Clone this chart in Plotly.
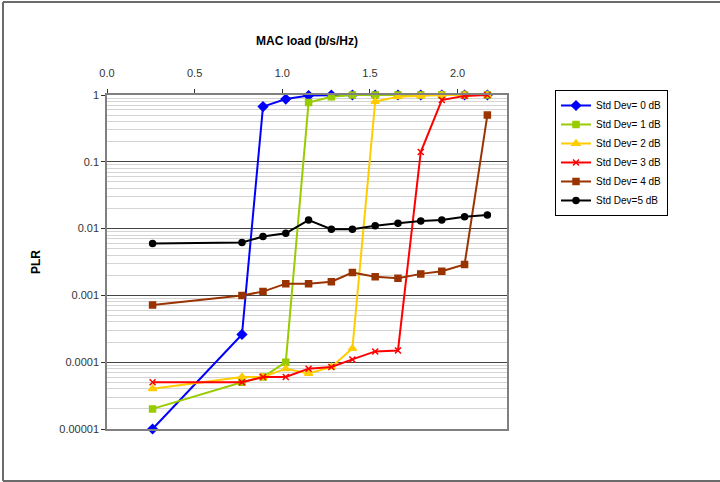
import plotly.graph_objects as go

# MAC load (b/s/Hz) sample points
load = [0.26, 0.77, 0.89, 1.02, 1.15, 1.28, 1.40, 1.53, 1.66, 1.79, 1.91, 2.04, 2.17]

# Packet loss ratio per shadowing standard deviation
plr_0db = [0.00001, 0.00026, 0.67, 0.87, 0.98, 1.0, 1.0, 1.0, 1.0, 1.0, 1.0, 1.0, 1.0]
plr_1db = [0.00002, 0.00005, 0.00006, 0.0001, 0.77, 0.94, 1.0, 1.0, 1.0, 1.0, 1.0, 1.0, 1.0]
plr_2db = [0.00004, 0.00006, 0.00006, 0.00008, 0.000068, 0.000085, 0.00016, 0.8, 0.94, 0.97, 1.0, 1.0, 1.0]
plr_3db = [0.00005, 0.00005, 0.00006, 0.00006, 0.00008, 0.000085, 0.00011, 0.000145, 0.00015, 0.14, 0.84, 0.97, 1.0]
plr_4db = [0.00072, 0.001, 0.00114, 0.0015, 0.0015, 0.0016, 0.0022, 0.0019, 0.0018, 0.0021, 0.0023, 0.0029, 0.5]
plr_5db = [0.006, 0.0062, 0.0076, 0.0085, 0.0134, 0.0098, 0.0098, 0.011, 0.012, 0.013, 0.0134, 0.015, 0.016]

series_names = ["Std Dev= 0 dB", "Std Dev= 1 dB", "Std Dev= 2 dB",
                "Std Dev= 3 dB", "Std Dev= 4 dB", "Std Dev=5 dB"]
series_values = [plr_0db, plr_1db, plr_2db, plr_3db, plr_4db, plr_5db]
series_colors = ["#0000FF", "#99CC00", "#FFCC00", "#FF0000", "#993300", "#000000"]
series_symbols = ["diamond", "square", "triangle-up", "x-thin-open", "square", "circle"]
series_sizes = [7, 6, 7, 6, 6, 6]

y_tickvals = [1, 0.1, 0.01, 0.001, 0.0001, 0.00001]
y_ticktext = ["1", "0.1", "0.01", "0.001", "0.0001", "0.00001"]

FONT = "Liberation Sans, Arial, sans-serif"

fig = go.Figure()
for name, vals, col, sym, sz in zip(series_names, series_values, series_colors,
                                    series_symbols, series_sizes):
    fig.add_trace(go.Scatter(
        x=load, y=vals, name=name, mode="lines+markers",
        line=dict(color=col, width=2),
        marker=dict(symbol=sym, size=sz, color=col,
                    line=dict(color=col, width=1.5)),
        cliponaxis=False,
    ))

# outer chart frame (left, top and bottom edges; the right edge runs off the page)
fx0 = (3 - 107) / 400
fx1 = (720 - 107) / 400
fy0 = (429 - 481) / 334
fy1 = (429 - 2) / 334
frame_style = dict(color="#6b6b6b", width=2)
frame = [
    dict(type="line", xref="paper", yref="paper", x0=fx0, x1=fx0, y0=fy0, y1=fy1, line=frame_style),
    dict(type="line", xref="paper", yref="paper", x0=fx0, x1=fx1, y0=fy1, y1=fy1, line=frame_style),
    dict(type="line", xref="paper", yref="paper", x0=fx0, x1=fx1, y0=fy0, y1=fy0, line=frame_style),
]

fig.update_layout(
    width=720, height=482,
    margin=dict(l=107, r=213, t=95, b=53),
    paper_bgcolor="white", plot_bgcolor="white",
    font=dict(family=FONT, size=11, color="#222222"),
    showlegend=True,
    legend=dict(
        x=1.12, y=1.015, xanchor="left", yanchor="top",
        bgcolor="white", bordercolor="#000000", borderwidth=1,
        font=dict(family=FONT, size=10, color="#000000"),
        itemwidth=30, tracegroupgap=0,
    ),
    shapes=frame,
)

fig.update_xaxes(
    side="top", range=[0, 2.282], dtick=0.5, tick0=0, tickformat=".1f",
    showgrid=False, zeroline=False,
    showline=True, linecolor="#808080", linewidth=1.5, mirror=True,
    ticks="outside", ticklen=4, tickcolor="#333333",
    ticklabelstandoff=8,
    tickfont=dict(size=11, color="#333333"),
    title=dict(text="<b>MAC load (b/s/Hz)</b>", font=dict(size=12, color="#000000"),
               standoff=19),
)

fig.update_yaxes(
    type="log", range=[-5, 0],
    tickvals=y_tickvals, ticktext=y_ticktext,
    showgrid=True, gridcolor="#444444", gridwidth=1,
    minor=dict(dtick="D1", showgrid=True, gridcolor="#d4d4d4", gridwidth=1, ticks=""),
    zeroline=False,
    showline=True, linecolor="#808080", linewidth=1.5, mirror=True,
    ticks="outside", ticklen=4, tickcolor="#333333",
    tickfont=dict(size=11, color="#333333"),
    title=dict(text="<b>PLR</b>", font=dict(size=12, color="#000000"), standoff=16),
)

fig.write_html("out.html")
